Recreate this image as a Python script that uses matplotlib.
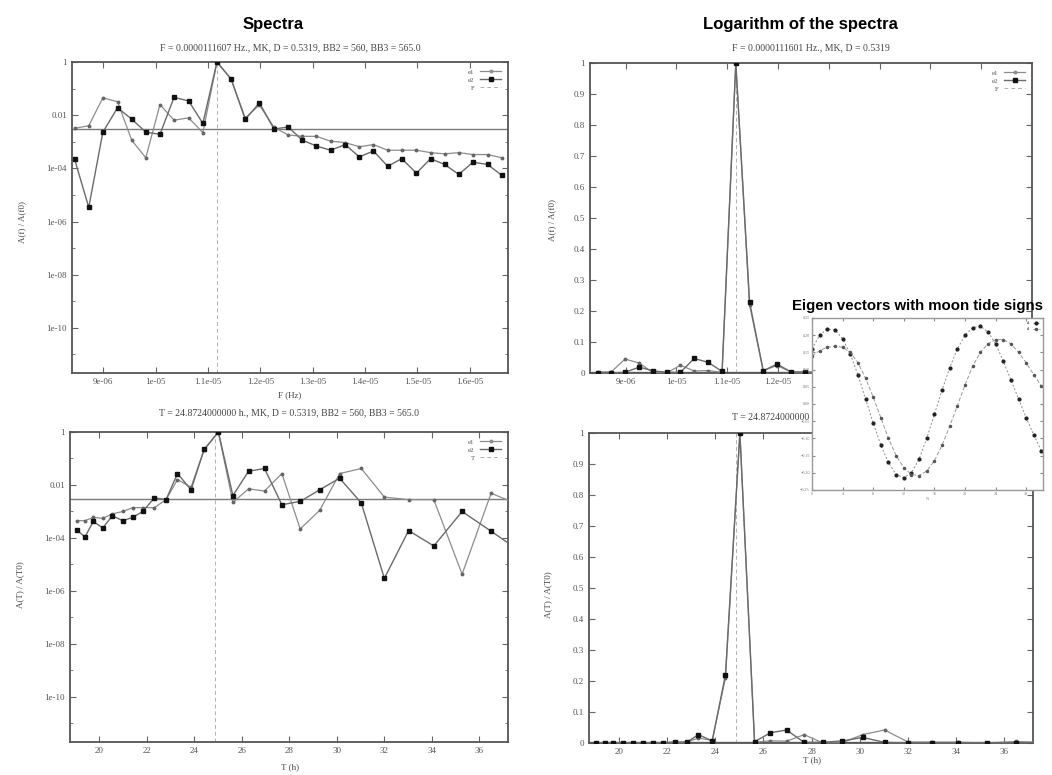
import matplotlib
matplotlib.use('Agg')
import numpy as np
import matplotlib.pyplot as plt
from matplotlib.ticker import FixedLocator, NullFormatter
from matplotlib.lines import Line2D

# frequency grid of the top panels (Hz)
freq = [8.45e-6, 8.72e-6, 8.99e-6, 9.27e-6, 9.54e-6, 9.81e-6, 10.08e-6, 10.35e-6,
        10.63e-6, 10.90e-6, 11.17e-6, 11.44e-6, 11.71e-6, 11.98e-6, 12.26e-6,
        12.53e-6, 12.80e-6, 13.07e-6, 13.34e-6, 13.62e-6, 13.89e-6, 14.16e-6,
        14.43e-6, 14.70e-6, 14.98e-6, 15.25e-6, 15.52e-6, 15.79e-6, 16.06e-6,
        16.34e-6, 16.61e-6]
e1_f = [3.2e-3, 4.0e-3, 4.5e-2, 3.2e-2, 1.15e-3, 2.5e-4, 2.5e-2, 6.5e-3, 7.9e-3,
        2.2e-3, 1.0, 0.22, 7.9e-3, 2.4e-2, 3.5e-3, 1.8e-3, 1.6e-3, 1.6e-3, 1.05e-3,
        9.3e-4, 6.5e-4, 7.8e-4, 4.8e-4, 4.8e-4, 4.8e-4, 3.9e-4, 3.5e-4, 3.9e-4,
        3.3e-4, 3.3e-4, 2.5e-4]
e2_f = [2.2e-4, 3.4e-6, 2.3e-3, 1.9e-2, 7.1e-3, 2.3e-3, 1.9e-3, 4.7e-2, 3.4e-2,
        4.9e-3, 1.0, 0.23, 6.9e-3, 2.9e-2, 3.0e-3, 3.6e-3, 1.15e-3, 6.9e-4, 4.8e-4,
        7.8e-4, 2.7e-4, 4.5e-4, 1.2e-4, 2.3e-4, 6.6e-5, 2.3e-4, 1.4e-4, 5.9e-5,
        1.7e-4, 1.4e-4, 5.5e-5]

# period grid of the bottom panels (hours)
period = [19.06, 19.41, 19.76, 20.16, 20.56, 21.00, 21.42, 21.84, 22.33, 22.82,
          23.30, 23.87, 24.42, 25.02, 25.63, 26.29, 26.96, 27.69, 28.46, 29.28,
          30.12, 31.03, 32.00, 33.02, 34.08, 35.27, 36.49, 37.90]
e1_T = [4.5e-4, 4.5e-4, 6.0e-4, 5.5e-4, 8.1e-4, 1.0e-3, 1.4e-3, 1.4e-3, 1.4e-3,
        2.8e-3, 1.6e-2, 8.3e-3, 0.21, 1.0, 2.2e-3, 7.2e-3, 5.9e-3, 2.7e-2, 2.2e-4,
        1.1e-3, 2.7e-2, 4.2e-2, 3.5e-3, 2.8e-3, 2.8e-3, 4.3e-6, 4.9e-3, 1.45e-3]
e2_T = [2.0e-4, 1.1e-4, 4.2e-4, 2.4e-4, 6.9e-4, 4.5e-4, 6.0e-4, 1.0e-3, 3.3e-3,
        2.8e-3, 2.7e-2, 6.6e-3, 0.22, 1.0, 4.0e-3, 3.3e-2, 4.2e-2, 1.8e-3, 2.4e-3,
        6.6e-3, 1.8e-2, 2.1e-3, 3.0e-6, 1.9e-4, 5.0e-5, 1.0e-3, 1.8e-4, 2.4e-5]

# eigen vectors (inset)
eig_n = list(range(31))
eig1 = [0.16, 0.20, 0.218, 0.215, 0.19, 0.145, 0.085, 0.015, -0.055, -0.12, -0.17,
        -0.205, -0.214, -0.20, -0.16, -0.10, -0.03, 0.04, 0.105, 0.16, 0.20, 0.222,
        0.226, 0.21, 0.175, 0.125, 0.07, 0.015, -0.04, -0.09, -0.137]
eig2 = [0.14, 0.155, 0.165, 0.168, 0.165, 0.15, 0.12, 0.075, 0.02, -0.04, -0.10,
        -0.15, -0.185, -0.205, -0.208, -0.195, -0.165, -0.12, -0.065, -0.005, 0.055,
        0.11, 0.15, 0.175, 0.187, 0.187, 0.175, 0.15, 0.12, 0.085, 0.052]

f_peak = 1.1168e-5
T_peak = 24.87
level = 3e-3

f_ticks = [9e-6, 1e-5, 1.1e-5, 1.2e-5, 1.3e-5, 1.4e-5, 1.5e-5, 1.6e-5]
f_labels = ['9e-06', '1e-05', '1.1e-05', '1.2e-05', '1.3e-05', '1.4e-05', '1.5e-05', '1.6e-05']
T_ticks = [20, 22, 24, 26, 28, 30, 32, 34, 36]
log_ticks = [1, 1e-2, 1e-4, 1e-6, 1e-8, 1e-10]
log_labels = ['1', '0.01', '1e-04', '1e-06', '1e-08', '1e-10']
log_minor = [1e-1, 1e-3, 1e-5, 1e-7, 1e-9, 1e-11]
lin_ticks = [0, 0.1, 0.2, 0.3, 0.4, 0.5, 0.6, 0.7, 0.8, 0.9, 1]
lin_labels = ['0', '0.1', '0.2', '0.3', '0.4', '0.5', '0.6', '0.7', '0.8', '0.9', '1']

W, H = 1052, 775
SERIF = ['Liberation Serif', 'DejaVu Serif']
SANS = ['Liberation Sans', 'DejaVu Sans']
plt.rcParams['font.family'] = SERIF

fig = plt.figure(figsize=(W / 100, H / 100), dpi=100)


def px_axes(x0, y0, x1, y1, **kw):
    return fig.add_axes([x0 / W, 1 - y1 / H, (x1 - x0) / W, (y1 - y0) / H], **kw)


def ftext(x, y, s, **kw):
    fig.text(x / W, 1 - y / H, s, **kw)


def draw_panel(ax, x, a, b, peak, logy, key):
    ax.axhline(level, color='#7a7a7a', lw=1.0, zorder=1)
    ax.axvline(peak, color='#b0b0b0', lw=0.7, ls=(0, (4, 3)), zorder=1)
    ax.plot(x, a, color='#8c8c8c', lw=0.9, marker='o', ms=1.8,
            mfc='#666666', mec='#666666', zorder=3)
    ax.plot(x, b, color='#6a6a6a', lw=1.0, marker='s', ms=3.3,
            mfc='#111111', mec='#111111', zorder=4)
    if logy:
        ax.set_yscale('log')
        ax.set_ylim(2e-12, 1)
        ax.yaxis.set_major_locator(FixedLocator(log_ticks))
        ax.set_yticklabels(log_labels)
        ax.yaxis.set_minor_locator(FixedLocator(log_minor))
        ax.yaxis.set_minor_formatter(NullFormatter())
    else:
        ax.set_ylim(0, 1)
        ax.set_yticks(lin_ticks)
        ax.set_yticklabels(lin_labels)
    for s in ax.spines.values():
        s.set_color('#555555')
        s.set_linewidth(1.3)
    ax.tick_params(which='both', direction='in', top=True, right=True,
                   labelsize=6.5, color='#666666', labelcolor='#555555', length=4)
    ax.tick_params(which='minor', length=2.5)
    handles = [Line2D([], [], color='#8c8c8c', lw=0.9, marker='o', ms=1.8),
               Line2D([], [], color='#6a6a6a', lw=1.0, marker='s', ms=3.3,
                      mfc='#111111', mec='#111111'),
               Line2D([], [], color='#b0b0b0', lw=0.7, ls=(0, (4, 3)))]
    ax.legend(handles, ['e1', 'e2', key], loc='upper right', frameon=False,
              fontsize=5, markerfirst=False, handlelength=3, labelspacing=0.3,
              borderaxespad=0.6, labelcolor='#555555')


# top left: spectra vs frequency, log scale
ax = px_axes(72, 62, 508, 373)
draw_panel(ax, freq, e1_f, e2_f, f_peak, True, 'F')
ax.set_xlim(8.4e-6, 1.673e-5)
ax.set_xticks(f_ticks)
ax.set_xticklabels(f_labels)

# bottom left: spectra vs period, log scale
ax = px_axes(70, 432, 508, 742)
draw_panel(ax, period, e1_T, e2_T, T_peak, True, 'T')
ax.set_xlim(18.78, 37.2)
ax.set_xticks(T_ticks)

# top right: linear scale vs frequency
ax = px_axes(590, 63, 1032, 373)
draw_panel(ax, freq, e1_f, e2_f, f_peak, False, 'F')
ax.set_xlim(8.3e-6, 1.70e-5)
ax.set_xticks(f_ticks)
ax.set_xticklabels(f_labels)

# bottom right: linear scale vs period
ax = px_axes(589, 433, 1033, 743)
draw_panel(ax, period, e1_T, e2_T, T_peak, False, 'T')
ax.set_xlim(18.75, 37.2)
ax.set_xticks(T_ticks)

# titles and labels
ftext(273, 25, 'Spectra', ha='center', va='center', fontsize=12,
      fontweight='bold', family=SANS)
ftext(800, 25, 'Logarithm of the spectra', ha='center', va='center', fontsize=12,
      fontweight='bold', family=SANS)
sub_color = '#444444'
ftext(290, 48, 'F = 0.0000111607 Hz., MK, D = 0.5319, BB2 = 560, BB3 = 565.0',
      ha='center', va='center', fontsize=7, color=sub_color)
ftext(811, 48, 'F = 0.0000111601 Hz., MK, D = 0.5319',
      ha='center', va='center', fontsize=7, color=sub_color)
ftext(289, 413, 'T = 24.8724000000 h., MK, D = 0.5319, BB2 = 560, BB3 = 565.0',
      ha='center', va='center', fontsize=7, color=sub_color)
ftext(811, 417, 'T = 24.8724000000 h., MK, D = 0.5319',
      ha='center', va='center', fontsize=7, color=sub_color)
ftext(290, 395, 'F (Hz)', ha='center', va='center', fontsize=6.5, color=sub_color)
ftext(290, 767, 'T (h)', ha='center', va='center', fontsize=6.5, color=sub_color)
ftext(812, 760, 'T (h)', ha='center', va='center', fontsize=6.5, color=sub_color)
ftext(22, 222, 'A(f) / A(f0)', ha='center', va='center', fontsize=6.5,
      rotation=90, color=sub_color)
ftext(20, 585, 'A(T) / A(T0)', ha='center', va='center', fontsize=6.5,
      rotation=90, color=sub_color)
ftext(552, 220, 'A(f) / A(f0)', ha='center', va='center', fontsize=6.5,
      rotation=90, color=sub_color)
ftext(548, 595, 'A(T) / A(T0)', ha='center', va='center', fontsize=6.5,
      rotation=90, color=sub_color)

# inset with eigen vectors, drawn over the right panels
panel = px_axes(785, 296, 1052, 500, zorder=5)
panel.set_facecolor('white')
panel.axis('off')
panel.patch.set_visible(True)

ftext(792, 306, 'Eigen vectors with moon tide signs', ha='left', va='center',
      fontsize=10.8, fontweight='bold', family=SANS, zorder=7)

ins = px_axes(812, 318, 1043, 490, zorder=6)
ins.plot(eig_n, eig1, color='#8c8c8c', lw=0.7, ls=(0, (2, 2)), marker='o', ms=2,
         mfc='#222222', mec='#222222')
ins.plot(eig_n, eig2, color='#9a9a9a', lw=0.7, ls=(0, (4, 2)), marker='o', ms=1.5,
         mfc='#555555', mec='#555555')
ins.set_xlim(0, 30.2)
ins.set_ylim(-0.25, 0.25)
ins.set_xticks([0, 4, 8, 12, 16, 20, 24, 28])
ins.set_yticks([-0.25, -0.2, -0.15, -0.1, -0.05, 0, 0.05, 0.1, 0.15, 0.2, 0.25])
ins.tick_params(direction='in', top=True, right=True, labelsize=3, length=2,
                color='#888888', labelcolor='#777777', pad=1.5)
for s in ins.spines.values():
    s.set_color('#999999')
    s.set_linewidth(1.0)
ins.set_xlabel('N', fontsize=3, color='#777777', labelpad=1)
ins.legend(['e1', 'e2'], loc='upper right', frameon=False, fontsize=2.5,
           markerfirst=False, handlelength=2)

fig.savefig('out.png', dpi=100, facecolor='white')
